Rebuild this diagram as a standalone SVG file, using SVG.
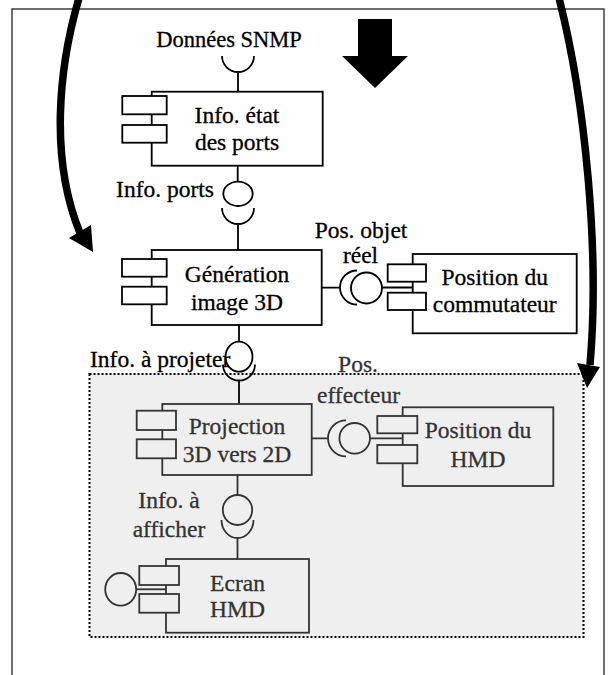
<svg xmlns="http://www.w3.org/2000/svg" width="613" height="675" viewBox="0 0 613 675">
<defs>
<style>
text { font-family: 'Liberation Serif', 'Times New Roman', Times, 'DejaVu Serif', serif; font-size: 23.5px; fill: #000; stroke: #000; stroke-width: 0.3; }
.c { text-anchor: middle; }
.box { fill: #fff; stroke: #000; stroke-width: 1.8; }
.ln { stroke: #000; stroke-width: 1.8; fill: none; }
.ball { fill: none; stroke: #000; stroke-width: 1.8; }
.in .box { fill: #efefef; stroke: #333; }
.in .ln, .in .ball { stroke: #333; }
.in text { fill: #333; stroke: #333; }
.big { fill: none; stroke: #000; stroke-width: 7.5; }
</style>
</defs>
<rect width="613" height="675" fill="#fff"/>
<rect id="frame" x="12" y="9" width="592" height="700" fill="none" stroke="#222" stroke-width="1.3"/>
<rect id="hmd-zone" x="89.5" y="374" width="494" height="263" fill="#efefef" stroke="#000" stroke-width="2" stroke-dasharray="2 2"/>

<g id="big-arrows">
<path class="big" d="M 79,-2 C 58,70 50,160 80,233"/>
<polygon points="69,238 91,225 93,252" fill="#000"/>
<path class="big" d="M 559,-2 C 585,100 600,250 590,365"/>
<polygon points="577,363 600,367 587,388" fill="#000"/>
<polygon points="358,19 392,19 392,56 408,56 375,88 342,56 358,56" fill="#000"/>
</g>

<g id="connectors">
<text x="229" y="47" class="c" style="font-size:22.5px">Données SNMP</text>
<path class="ln" d="M 222,56 A 16,16 0 0 0 254,56 M 238,72 V 91.7"/>

<path class="ln" d="M 237.7,165.7 V 181.7 M 222,208 A 16,16 0 0 0 254,208 M 238,224 V 250"/>
<ellipse class="ball" cx="238" cy="193.8" rx="14.7" ry="12.2"/>
<text x="214" y="196.7" text-anchor="end">Info. ports</text>

<path class="ln" d="M 321.7,287.7 H 340 M 357,270.5 A 17,17 0 0 0 357,304.5 M 382,287.5 H 412.7"/>
<circle class="ball" cx="366.5" cy="288" r="15.5"/>
<text x="361" y="237.7" class="c">Pos. objet</text>
<text x="360.5" y="263" class="c">réel</text>

<path class="ln" d="M 239,325 V 341.7 M 223,364.5 A 16,16 0 0 0 255,364.5 M 239,380.5 V 404"/>
<ellipse class="ball" cx="239" cy="356.7" rx="13.5" ry="15"/>
<text x="90" y="366.7">Info. à projeter</text>

<g class="in">
<path class="ln" d="M 311.7,438.3 H 328 M 346,420.3 A 18,18 0 0 0 346,456.3 M 370,438.3 H 402.7"/>
<circle class="ball" cx="354.7" cy="438.3" r="15.3"/>
<text x="358" y="371.7" class="c">Pos.</text>
<text x="358.5" y="403.3" class="c">effecteur</text>

<path class="ln" d="M 237.5,475 V 495 M 221.5,520 A 16,18 0 0 0 253.5,520 M 237.5,538 V 559"/>
<ellipse class="ball" cx="237.5" cy="510" rx="14.7" ry="15"/>
<text x="169" y="508.3" class="c">Info. à</text>
<text x="169" y="536.7" class="c">afficher</text>

<path class="ln" d="M 136.5,589.3 H 166"/>
<ellipse class="ball" cx="120.7" cy="589.3" rx="15.5" ry="16.3"/>
</g>
</g>

<g id="info-etat-ports">
<rect class="box" x="151.7" y="91.7" width="171" height="74"/>
<rect class="box" x="122.3" y="96" width="44.4" height="18.3"/>
<rect class="box" x="122.3" y="125" width="44.4" height="17.7"/>
<text x="237" y="123.3" class="c">Info. état</text>
<text x="237" y="150" class="c">des ports</text>
</g>

<g id="generation-image-3d">
<rect class="box" x="151.7" y="250" width="170" height="75"/>
<rect class="box" x="122" y="259" width="44.7" height="17.7"/>
<rect class="box" x="122" y="286.7" width="44.7" height="17.6"/>
<text x="237" y="282" class="c">Génération</text>
<text x="237" y="309.5" class="c">image 3D</text>
</g>

<g id="position-commutateur">
<rect class="box" x="412.7" y="254" width="164" height="79.3"/>
<rect class="box" x="387.7" y="264.3" width="38.3" height="17.4"/>
<rect class="box" x="387.7" y="292.7" width="38.3" height="17.3"/>
<text x="494.7" y="285" class="c">Position du</text>
<text x="494.7" y="311.7" class="c">commutateur</text>
</g>

<g id="projection-3d-2d" class="in">
<rect class="box" x="162.3" y="404" width="149.4" height="71"/>
<rect class="box" x="136.7" y="410.7" width="39.3" height="19.3"/>
<rect class="box" x="136.7" y="439.3" width="39.3" height="19"/>
<text x="237" y="434" class="c">Projection</text>
<text x="237" y="461.7" class="c">3D vers 2D</text>
</g>

<g id="position-hmd" class="in">
<rect class="box" x="402.7" y="407.3" width="150.6" height="78.7"/>
<rect class="box" x="377.3" y="416" width="40" height="17.3"/>
<rect class="box" x="377.3" y="445" width="40" height="18.3"/>
<text x="478" y="438.3" class="c">Position du</text>
<text x="478" y="466.7" class="c">HMD</text>
</g>

<g id="ecran-hmd" class="in">
<rect class="box" x="166" y="559" width="143" height="73.7"/>
<rect class="box" x="139.3" y="566" width="39.7" height="19"/>
<rect class="box" x="139.3" y="594" width="39.7" height="18.7"/>
<text x="237.5" y="590.7" class="c">Ecran</text>
<text x="237.5" y="617.3" class="c">HMD</text>
</g>
</svg>
